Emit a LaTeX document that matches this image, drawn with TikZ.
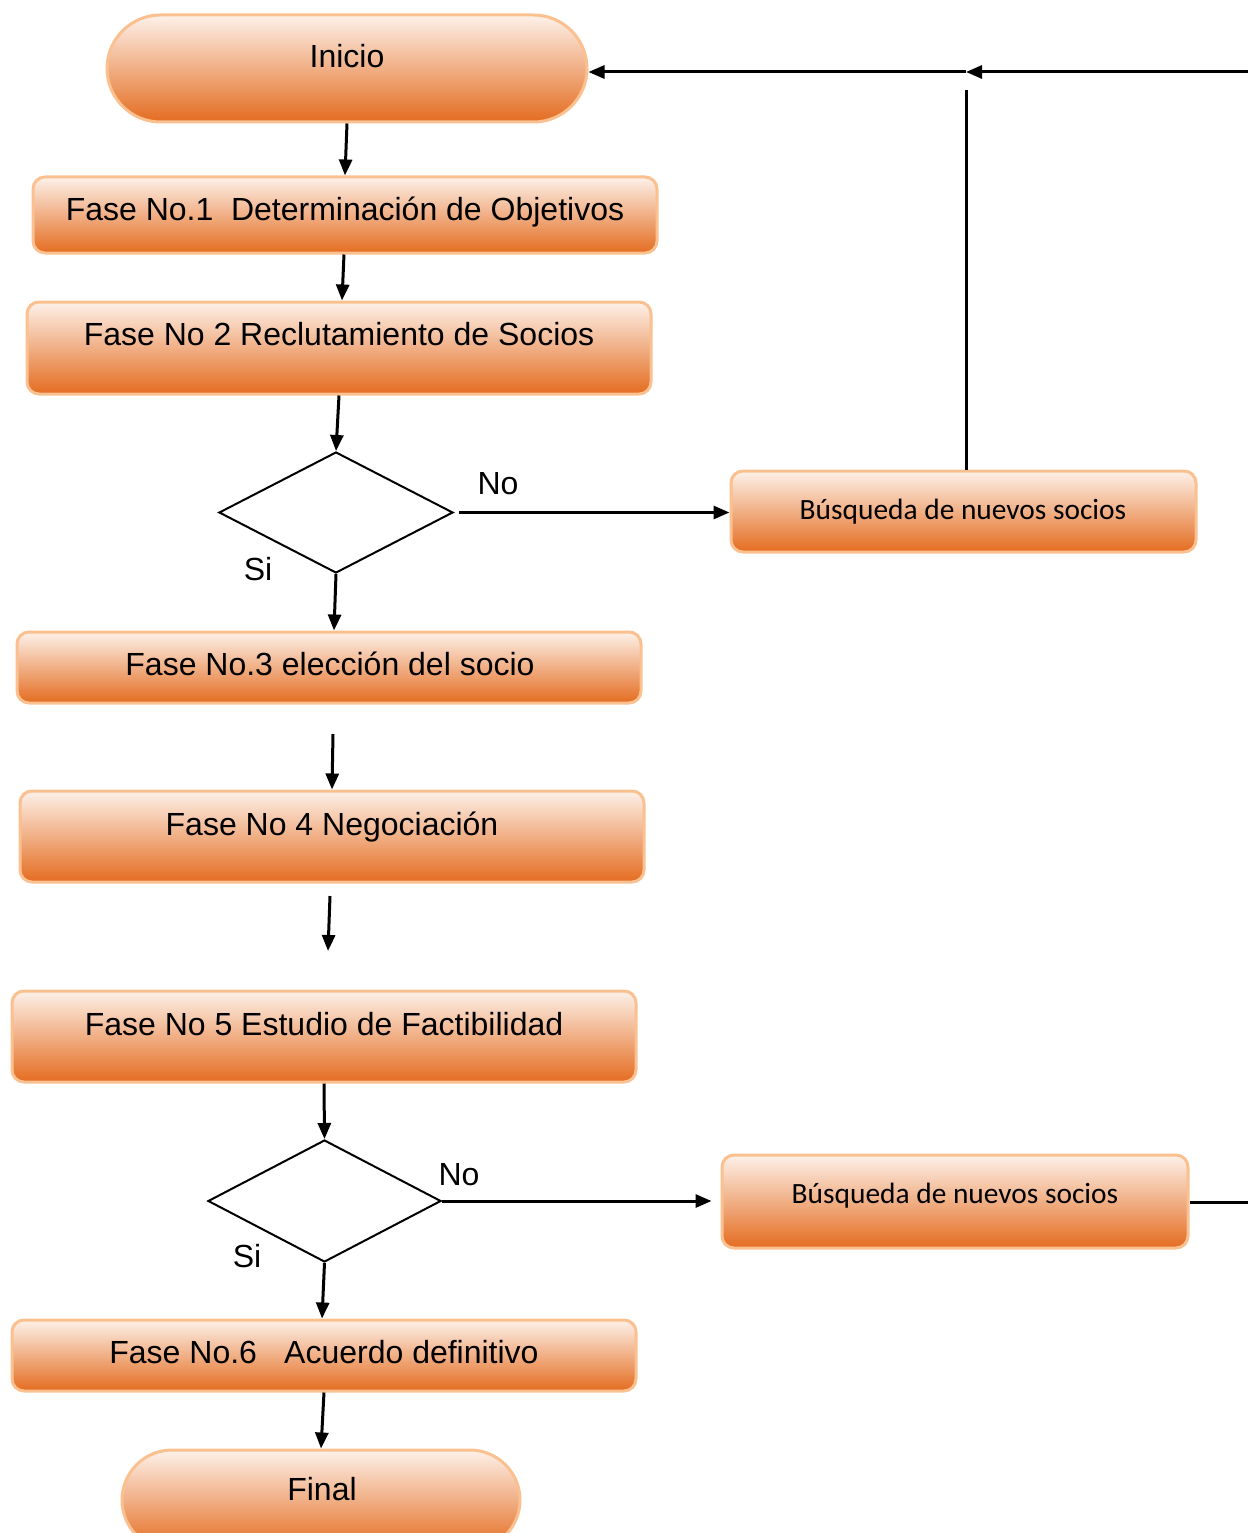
\documentclass[tikz,border=0pt]{standalone}
\usepackage{fontspec}
\setmainfont{Liberation Sans}
\newfontfamily\calib{Carlito}
\usetikzlibrary{arrows.meta,shapes.misc,shapes.geometric}
\definecolor{boxtop}{HTML}{FDF1E9}
\definecolor{boxmid}{HTML}{F4CDB8}
\definecolor{boxbot}{HTML}{E46C20}
\definecolor{boxedge}{HTML}{FAC08F}
\begin{document}
\begin{tikzpicture}[x=1pt,y=-1pt,
  fill box/.style={draw=boxedge, line width=3pt, top color=boxtop, middle color=boxmid, bottom color=boxbot, inner sep=0pt},
  stepbox/.style={fill box, rounded corners=12pt, rectangle},
  term/.style={fill box, rounded rectangle},
  decision/.style={draw=black, line width=2pt, diamond, inner sep=0pt},
  bigtext/.style={anchor=base, font=\fontsize{32}{38}\selectfont, inner sep=0pt},
  smalltext/.style={anchor=base, font=\calib\fontsize{29.4}{34}\selectfont, inner sep=0pt},
  conn/.style={draw=black, line width=3pt},
  arr/.style={conn, -{Triangle[length=16pt,width=13pt]}}
]
\clip (0,0) rectangle (1248,1533);
\useasboundingbox (0,0) rectangle (1248,1533);

% shapes
\node[term, minimum width=480pt, minimum height=107pt] (in) at (347,68.5) {};
\node[stepbox, minimum width=624pt, minimum height=76pt] (f1) at (345,215) {};
\node[stepbox, minimum width=624pt, minimum height=92pt] (f2) at (339,348) {};
\node[decision, minimum width=234pt, minimum height=121pt] (d1) at (336,512.5) {};
\node[stepbox, minimum width=465pt, minimum height=81pt] (b1) at (963.5,511.5) {};
\node[stepbox, minimum width=624pt, minimum height=71pt] (f3) at (329,667.5) {};
\node[stepbox, minimum width=624pt, minimum height=91pt] (f4) at (332,836.5) {};
\node[stepbox, minimum width=624pt, minimum height=91pt] (f5) at (324,1036.5) {};
\node[decision, minimum width=233pt, minimum height=122pt] (d2) at (324.5,1201) {};
\node[stepbox, minimum width=466pt, minimum height=93pt] (b2) at (955,1201.5) {};
\node[stepbox, minimum width=624pt, minimum height=71pt] (f6) at (324,1355.5) {};
\node[term, minimum width=398pt, minimum height=100pt] (fin) at (321,1500) {};

% texts
\node[bigtext] (tin) at (347,68) {Inicio};
\node[bigtext] (tf1) at (345,220) {Fase No.1\hspace{0.55em}Determinación de Objetivos};
\node[bigtext] (tf2) at (339,345) {Fase No 2 Reclutamiento de Socios};
\node[bigtext] (tno1) at (498,494) {No};
\node[bigtext] (tsi1) at (258,580) {Si};
\node[smalltext] (tb1) at (963,519) {Búsqueda de nuevos socios};
\node[bigtext] (tf3) at (330,675) {Fase No.3 elección del socio};
\node[bigtext] (tf4) at (332,835) {Fase No 4 Negociación};
\node[bigtext] (tf5) at (324,1035) {Fase No 5 Estudio de Factibilidad};
\node[bigtext] (tno2) at (459,1185) {No};
\node[bigtext] (tsi2) at (247,1267) {Si};
\node[smalltext] (tb2) at (955,1203) {Búsqueda de nuevos socios};
\node[bigtext] (tf6) at (324,1363) {Fase No.6\hspace{0.85em}Acuerdo definitivo};
\node[bigtext] (tfin) at (322,1500) {Final};

% free coordinates
\coordinate (v1) at (966,90);
\coordinate (e1) at (1248,72);
\coordinate (j1) at (966,72);
\coordinate (a4) at (333,734);
\coordinate (a5) at (330,896);
\coordinate (a5e) at (328,951);
\coordinate (e2) at (1248,1202);

% connectors
\draw[arr] (in.south) -- (f1.north);
\draw[arr] ([xshift=-1pt]f1.south) -- ([xshift=3pt]f2.north);
\draw[arr] (f2.south) -- (d1.north);
\draw[arr] ([xshift=5pt]d1.east) -- (b1.west |- d1.east);
\draw[conn] ([xshift=2.5pt]b1.north) -- (v1);
\draw[arr] (e1) -- (j1);
\draw[arr] (j1) -- (in.east |- j1);
\draw[arr] (d1.south) -- ([xshift=5pt]f3.north);
\draw[arr] (a4) -- (f4.north);
\draw[arr] (a5) -- (a5e);
\draw[arr] (f5.south) -- (d2.north);
\draw[arr] (d2.east) -- ([xshift=-9pt]b2.west |- d2.east);
\draw[conn] (b2.east |- e2) -- (e2);
\draw[arr] (d2.south) -- ([xshift=-2pt]f6.north);
\draw[arr] (f6.south) -- (fin.north);
\end{tikzpicture}
\end{document}
